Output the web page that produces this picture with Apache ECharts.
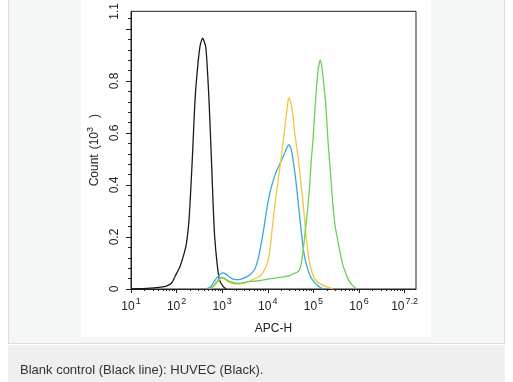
<!DOCTYPE html>
<html>
<head>
<meta charset="utf-8">
<script src="https://cdn.jsdelivr.net/npm/echarts@6/dist/echarts.min.js"></script>
<style>
html,body{margin:0;padding:0;background:#fff;}
#wrap{position:relative;width:513px;height:382px;overflow:hidden;background:#fff;}
#frame{position:absolute;left:8px;top:-1px;width:495px;height:343px;background:#f5f6f6;border:1px solid #dcdcdc;}
#cap{position:absolute;left:8px;top:345px;width:497px;height:37px;background:#efefef;}
#white{position:absolute;left:81px;top:0;width:350px;height:337px;background:#fff;}
#chart{position:absolute;left:0;top:0;width:513px;height:382px;}
</style>
</head>
<body>
<div id="wrap">
<div id="frame"></div>
<div id="cap"></div>
<div id="white"></div>
<div id="chart"></div>
</div>
<script>
// x values are log10(APC-H); y values are Count in units of 10^3
const xMajorTicks = [1, 2, 3, 4, 5, 6, 7];
const xTickLabels = ['1', '2', '3', '4', '5', '6', '7.2'];
const yMajorTicks = [0, 0.2, 0.4, 0.6, 0.8, 1.0];
const yTickValues = [0, 0.2, 0.4, 0.6, 0.8, 1.068];
const yTickLabels = ['0', '0.2', '0.4', '0.6', '0.8', '1.1'];

const blackLine = [[1.0,0],[1.3,0.002],[1.5,0.004],[1.7,0.008],[1.8,0.013],[1.9,0.025],[1.97,0.05],[2.07,0.085],[2.17,0.14],[2.22,0.18],[2.27,0.26],[2.31,0.38],[2.35,0.52],[2.39,0.68],[2.42,0.77],[2.47,0.87],[2.52,0.94],[2.57,0.965],[2.60,0.955],[2.64,0.93],[2.67,0.86],[2.71,0.73],[2.75,0.56],[2.77,0.47],[2.80,0.33],[2.835,0.2],[2.89,0.095],[2.94,0.035],[3.02,0.01],[3.09,0]];
const blueLine = [[2.64,0],[2.74,0.008],[2.81,0.025],[2.89,0.045],[2.96,0.058],[3.01,0.062],[3.06,0.06],[3.13,0.05],[3.21,0.04],[3.31,0.036],[3.41,0.038],[3.51,0.045],[3.61,0.055],[3.71,0.075],[3.78,0.11],[3.84,0.16],[3.91,0.23],[3.98,0.31],[4.06,0.38],[4.16,0.44],[4.26,0.48],[4.34,0.51],[4.41,0.54],[4.46,0.555],[4.51,0.54],[4.56,0.49],[4.62,0.41],[4.68,0.31],[4.74,0.21],[4.79,0.14],[4.86,0.085],[4.93,0.05],[5.01,0.028],[5.08,0.015],[5.16,0.005],[5.23,0]];
const yellowLine = [[2.71,0],[2.81,0.01],[2.91,0.03],[2.98,0.042],[3.04,0.04],[3.11,0.03],[3.21,0.022],[3.36,0.02],[3.51,0.025],[3.66,0.035],[3.78,0.045],[3.86,0.055],[3.93,0.075],[3.99,0.1],[4.04,0.14],[4.09,0.22],[4.14,0.3],[4.19,0.37],[4.26,0.46],[4.31,0.53],[4.36,0.6],[4.41,0.675],[4.45,0.73],[4.47,0.735],[4.51,0.71],[4.55,0.67],[4.59,0.6],[4.63,0.55],[4.67,0.5],[4.73,0.4],[4.78,0.32],[4.84,0.2],[4.89,0.13],[4.93,0.09],[5.0,0.05],[5.07,0.03],[5.17,0.018],[5.3,0.008],[5.43,0]];
const greenLine = [[2.70,0],[2.80,0.01],[2.90,0.032],[2.98,0.045],[3.05,0.042],[3.13,0.032],[3.25,0.024],[3.4,0.022],[3.55,0.027],[3.7,0.03],[3.85,0.033],[4.0,0.038],[4.15,0.042],[4.3,0.046],[4.45,0.05],[4.55,0.058],[4.65,0.065],[4.71,0.08],[4.77,0.14],[4.82,0.22],[4.87,0.3],[4.92,0.4],[4.95,0.49],[4.99,0.57],[5.03,0.68],[5.07,0.78],[5.11,0.85],[5.15,0.88],[5.18,0.86],[5.22,0.8],[5.27,0.71],[5.32,0.57],[5.36,0.48],[5.41,0.36],[5.47,0.25],[5.52,0.2],[5.58,0.145],[5.65,0.09],[5.7,0.065],[5.77,0.035],[5.85,0.015],[5.95,0]];

const X_MAX = 7.25;
// minor tick positions
const xMinorTicks = [];
for (let d = 1; d <= 7; d++) { for (let k = 2; k <= 9; k++) { const v = d + Math.log10(k); if (v < X_MAX) xMinorTicks.push(+v.toFixed(4)); } }
const yMinorTicks = [];
for (let i = 0; i <= 26; i++) { yMinorTicks.push(+(i * 0.04).toFixed(2)); }

const FONT = '"Liberation Sans", Arial, sans-serif';
const TXT = '#222';

const chart = echarts.init(document.getElementById('chart'), null, {renderer: 'canvas'});
function mkSeries(name, data, color) {
  return {name, type: 'line', data, xAxisIndex: 0, yAxisIndex: 0, showSymbol: false, symbol: 'none', smooth: 0.2,
    lineStyle: {color, width: 1.3}, itemStyle: {color}, z: 3, silent: true};
}
chart.setOption({
  animation: false,
  backgroundColor: 'transparent',
  title: {text: 'Blank control (Black line): HUVEC (Black).', left: 20, top: 364, padding: 0,
    textStyle: {fontFamily: FONT, fontSize: 13, fontWeight: 'normal', color: '#333'}},
  grid: {left: 131, top: 6, width: 285, height: 283, show: true, borderColor: '#222', borderWidth: 1, backgroundColor: 'transparent'},
  xAxis: [
    {type: 'value', min: 1, max: X_MAX, position: 'bottom',
      axisLine: {show: true, lineStyle: {color: '#222', width: 1}},
      axisTick: {show: true, customValues: xMajorTicks, length: 4, lineStyle: {color: '#222'}},
      splitLine: {show: false},
      axisLabel: {show: true, customValues: xMajorTicks, margin: 8, fontFamily: FONT, color: TXT,
        formatter: function (v) { const i = xMajorTicks.indexOf(Math.round(v)); return '{b|10}{s|' + xTickLabels[i] + '}'; },
        rich: {b: {fontSize: 12, fontFamily: FONT, color: TXT, lineHeight: 16, verticalAlign: 'bottom'},
               s: {fontSize: 9, fontFamily: FONT, color: TXT, verticalAlign: 'top', padding: [0, 0, 0, 1]}}},
      name: 'APC-H', nameLocation: 'middle', nameGap: 34,
      nameTextStyle: {fontFamily: FONT, fontSize: 12, color: TXT}},
    {type: 'value', min: 1, max: X_MAX, position: 'bottom',
      axisLine: {show: false},
      axisTick: {show: true, customValues: xMinorTicks, length: 2, lineStyle: {color: '#222'}},
      axisLabel: {show: false}, splitLine: {show: false}}
  ],
  yAxis: [
    {type: 'value', min: 0, max: 1.068, position: 'left',
      axisLine: {show: true, lineStyle: {color: '#222', width: 1}},
      axisTick: {show: true, customValues: yMajorTicks, length: 5, lineStyle: {color: '#222'}},
      splitLine: {show: false},
      axisLabel: {show: true, customValues: yTickValues, rotate: 90, margin: 10, fontFamily: FONT, fontSize: 12, color: TXT,
        formatter: function (v) { let best = 0; yTickValues.forEach((t, i) => { if (Math.abs(t - v) < Math.abs(yTickValues[best] - v)) best = i; }); return yTickLabels[best]; }},
      name: '{n|Count}{g|(10}{s|3}{c|)}', nameLocation: 'middle', nameGap: 29, nameRotate: 90,
      nameTextStyle: {fontFamily: FONT, fontSize: 12, color: TXT,
        rich: {n: {fontFamily: FONT, fontSize: 12, color: TXT, lineHeight: 15, verticalAlign: 'bottom'},
               g: {fontFamily: FONT, fontSize: 12, color: TXT, lineHeight: 15, verticalAlign: 'bottom', padding: [0, 0, 0, 5]},
               s: {fontFamily: FONT, fontSize: 9, color: TXT, verticalAlign: 'top'},
               c: {fontFamily: FONT, fontSize: 12, color: TXT, lineHeight: 15, verticalAlign: 'bottom', padding: [0, 0, 0, 9]}}}},
    {type: 'value', min: 0, max: 1.068, position: 'left',
      axisLine: {show: false},
      axisTick: {show: true, customValues: yMinorTicks.filter(v => v <= 1.068), length: 3, lineStyle: {color: '#222'}},
      axisLabel: {show: false}, splitLine: {show: false}}
  ],
  series: [
    mkSeries('Blank control', blackLine, '#1a1a1a'),
    mkSeries('Blue', blueLine, '#3aa8d8'),
    mkSeries('Yellow', yellowLine, '#f2c53d'),
    mkSeries('Green', greenLine, '#6ccf58')
  ]
});
</script>
</body>
</html>
